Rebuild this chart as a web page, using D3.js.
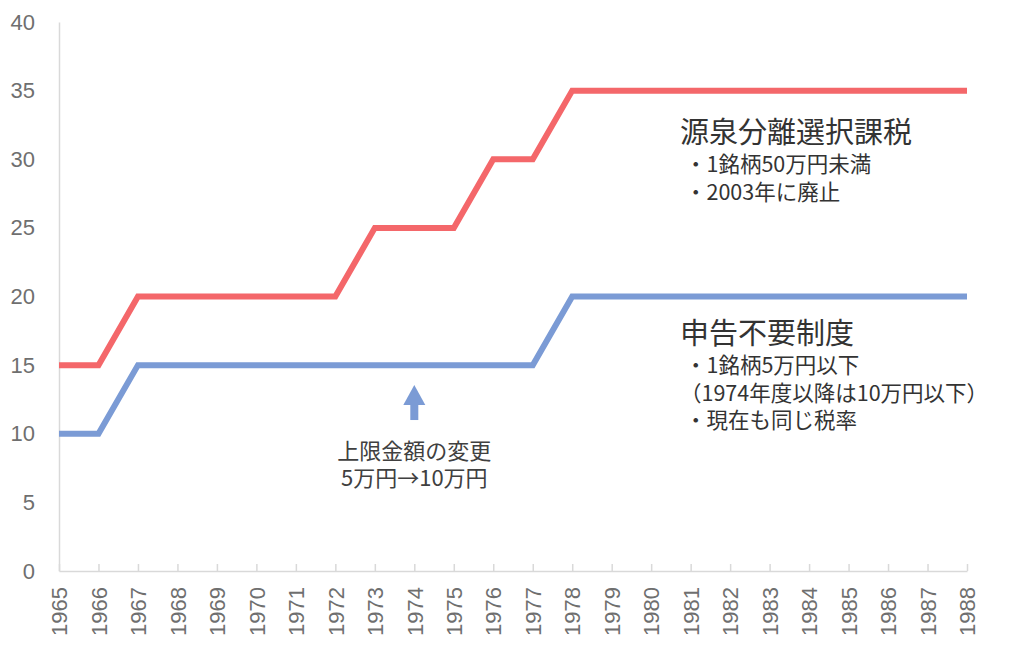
<!DOCTYPE html>
<html lang="ja">
<head>
<meta charset="UTF-8">
<script src="https://cdnjs.cloudflare.com/ajax/libs/d3/7.8.5/d3.min.js"></script>
<style>
  body { margin: 0; background: #fff; }
  text { font-family: "Noto Sans CJK JP", "Noto Sans", sans-serif; }
</style>
</head>
<body>
<script>
// data
let years = d3.range(1965, 1989);
let separateTax = [15, 15, 20, 20, 20, 20, 20, 20, 25, 25, 25, 30, 30, 35, 35, 35, 35, 35, 35, 35, 35, 35, 35, 35];
let noFilingTax = [10, 10, 15, 15, 15, 15, 15, 15, 15, 15, 15, 15, 15, 20, 20, 20, 20, 20, 20, 20, 20, 20, 20, 20];
let yTicks = [0, 5, 10, 15, 20, 25, 30, 35, 40];

let width = 1024, height = 650;
let margin = {top: 22, right: 57, bottom: 79, left: 59};

let x = d3.scaleLinear().domain([1965, 1988]).range([margin.left, width - margin.right]);
let y = d3.scaleLinear().domain([0, 40]).range([height - margin.bottom, margin.top]);

let svg = d3.select("body").append("svg")
    .attr("width", width)
    .attr("height", height);

// y axis
let yAxis = svg.append("g")
    .attr("transform", "translate(" + margin.left + ",0)")
    .call(d3.axisLeft(y).tickValues(yTicks).tickSize(0).tickPadding(24));
yAxis.select(".domain").attr("stroke", "#d9d9d9").attr("stroke-width", 1.5);
yAxis.selectAll("text").attr("fill", "#6f6f6f").style("font-size", "22px")
    .style("font-family", "'Liberation Sans', Arial, sans-serif");

// x axis
let xAxis = svg.append("g")
    .attr("transform", "translate(0," + y(0) + ")")
    .call(d3.axisBottom(x).tickValues(years).tickFormat(d3.format("d")).tickSizeInner(-7).tickSizeOuter(0));
xAxis.select(".domain").attr("stroke", "#d9d9d9").attr("stroke-width", 1.5);
xAxis.selectAll(".tick line").attr("stroke", "#d9d9d9").attr("stroke-width", 1.5);
xAxis.selectAll("text")
    .attr("fill", "#6f6f6f")
    .style("font-size", "22px")
    .style("font-family", "'Liberation Sans', Arial, sans-serif")
    .attr("transform", "rotate(-90)")
    .attr("text-anchor", "end")
    .attr("x", -16)
    .attr("y", 0)
    .attr("dy", "0.35em");

let line = d3.line()
    .x(function(d, i) { return x(years[i]); })
    .y(function(d) { return y(d); });

svg.append("path").datum(noFilingTax)
    .attr("d", line)
    .attr("fill", "none")
    .attr("stroke", "#7b9bd5")
    .attr("stroke-width", 6);

svg.append("path").datum(separateTax)
    .attr("d", line)
    .attr("fill", "none")
    .attr("stroke", "#f4676a")
    .attr("stroke-width", 6);

// arrow at 1974
let ax = x(1974);
svg.append("rect")
    .attr("x", ax - 4).attr("y", y(12.15))
    .attr("width", 8).attr("height", y(11.0) - y(12.15))
    .attr("fill", "#7b9bd5");
svg.append("path")
    .attr("d", "M" + (ax - 11) + "," + y(12.1) + " L" + ax + "," + y(13.55) + " L" + (ax + 11) + "," + y(12.1) + " Z")
    .attr("fill", "#7b9bd5");

let note = svg.append("text").attr("text-anchor", "middle").attr("fill", "#404040").style("font-size", "22px");
note.append("tspan").attr("x", ax).attr("y", 459).text("上限金額の変更");
note.append("tspan").attr("x", ax).attr("y", 486).text("5万円→10万円");

// labels
function block(x0, y0, title, lines) {
    svg.append("text").attr("x", x0).attr("y", y0)
        .attr("fill", "#333").style("font-size", "29px").text(title);
    lines.forEach(function(t, i) {
        let dx = t.charAt(0) == "（" ? 0 : 5;
        svg.append("text").attr("x", x0 + dx).attr("y", y0 + 29 + i * 27.5)
            .attr("fill", "#333").style("font-size", "21.5px").text(t);
    });
}
block(680, 143, "源泉分離選択課税", ["・1銘柄50万円未満", "・2003年に廃止"]);
block(680, 344, "申告不要制度", ["・1銘柄5万円以下", "（1974年度以降は10万円以下）", "・現在も同じ税率"]);
</script>
</body>
</html>
